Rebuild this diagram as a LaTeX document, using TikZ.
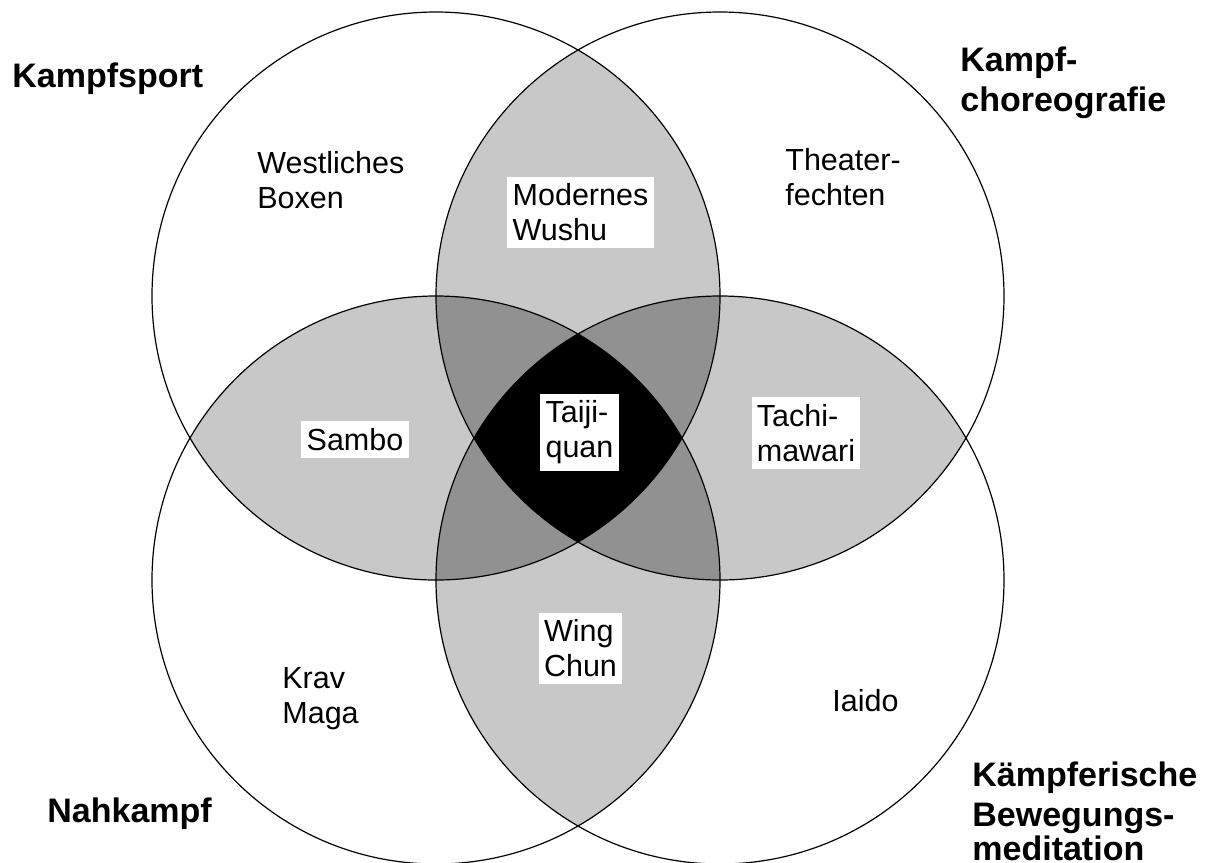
\documentclass[tikz,border=0pt]{standalone}
\usepackage{fontspec}
\setmainfont{Liberation Sans}
\newcommand{\kr}{142pt}
\tikzset{
  zwei/.style={fill={rgb,255:red,200;green,200;blue,200}},
  drei/.style={fill={rgb,255:red,145;green,145;blue,145}},
  kreis/.style={draw=black,line width=0.6pt},
  art/.style={font=\fontsize{15.25}{17.5}\selectfont,align=left,inner sep=0pt},
  feld/.style={art,fill=white,inner xsep=2.6pt,inner ysep=3.5pt},
  titel/.style={font=\fontsize{17}{20}\selectfont\bfseries,align=left,inner sep=0pt}
}

\begin{document}
\begin{tikzpicture}[x=0.5pt,y=-0.5pt,line join=round]
  \useasboundingbox (0,0) rectangle (1207,863);
  \coordinate (S) at (436,296);
  \coordinate (C) at (720,296);
  \coordinate (N) at (436,580);
  \coordinate (M) at (720,580);
  % zwei Kreise
  \begin{scope}
    \clip (S) circle[radius=\kr];
    \fill[zwei] (C) circle[radius=\kr];
    \fill[zwei] (N) circle[radius=\kr];
  \end{scope}
  \begin{scope}
    \clip (M) circle[radius=\kr];
    \fill[zwei] (C) circle[radius=\kr];
    \fill[zwei] (N) circle[radius=\kr];
  \end{scope}
  % drei Kreise
  \begin{scope}
    \clip (S) circle[radius=\kr];
    \clip (C) circle[radius=\kr];
    \fill[drei] (N) circle[radius=\kr];
    \fill[drei] (M) circle[radius=\kr];
  \end{scope}
  \begin{scope}
    \clip (N) circle[radius=\kr];
    \clip (M) circle[radius=\kr];
    \fill[drei] (S) circle[radius=\kr];
    \fill[drei] (C) circle[radius=\kr];
  \end{scope}
  % alle vier
  \begin{scope}
    \clip (S) circle[radius=\kr];
    \clip (C) circle[radius=\kr];
    \clip (N) circle[radius=\kr];
    \fill[black] (M) circle[radius=\kr];
  \end{scope}
  \draw[kreis] (S) circle[radius=\kr];
  \draw[kreis] (C) circle[radius=\kr];
  \draw[kreis] (N) circle[radius=\kr];
  \draw[kreis] (M) circle[radius=\kr];
  % Kreisnamen
  \node[titel,anchor=base west] (sport) at (12,87) {Kampfsport};
  \node[titel,anchor=north west] (choreo) at (960,46) {Kampf-\\choreografie};
  \node[titel,anchor=base west] (nah) at (47,822) {Nahkampf};
  \node[titel,anchor=south west] (medit) at (972,861) {Kämpferische\\Bewegungs-\\[-3pt]meditation};
  % Beispiele
  \node[art,anchor=north west] (boxen) at (257,151) {Westliches\\Boxen};
  \node[art,anchor=north west] (theater) at (785,148) {Theater-\\fechten};
  \node[art,anchor=north west] (krav) at (282,667) {Krav\\Maga};
  \node[art,anchor=north west] (iaido) at (832,689) {Iaido};
  \node[feld] (wushu) at (580.5,212.5) {Modernes\\Wushu};
  \node[feld] (sambo) at (355,439.5) {Sambo};
  \node[feld] (taiji) at (579.5,432.5) {Taiji-\\quan};
  \node[feld] (tachi) at (806,433) {Tachi-\\mawari};
  \node[feld] (wing) at (580.5,648.5) {Wing\\Chun};
\end{tikzpicture}
\end{document}
